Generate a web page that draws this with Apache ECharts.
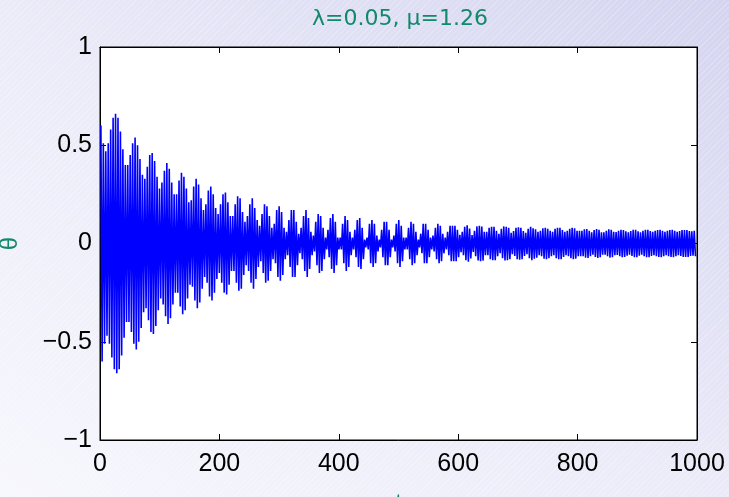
<!DOCTYPE html>
<html>
<head>
<meta charset="utf-8">
<script src="https://cdn.jsdelivr.net/npm/echarts@6/dist/echarts.min.js"></script>
<style>
html,body{margin:0;padding:0;}
body{width:729px;height:497px;overflow:hidden;
background:
 repeating-linear-gradient(135deg, rgba(255,255,255,0.22) 0px, rgba(255,255,255,0.22) 1px, rgba(255,255,255,0) 1px, rgba(255,255,255,0) 4px),
 linear-gradient(to top right, #f7f7fd 0%, #ececf9 45%, #d4d4f0 100%);}
#chart{width:729px;height:497px;}
</style>
</head>
<body>
<div id="chart"></div>
<script>
// Title and axis labels
const titleText = "λ=0.05, μ=1.26";
const xName = "t";
const yName = "θ";
const xTicks = [0, 200, 400, 600, 800, 1000];
const yTicks = [-1, -0.5, 0, 0.5, 1];

// Oscillation: time of first extremum and spacing between successive peaks
const tStart = 1.5;
const tPeriod = 4.09;

// Peak amplitudes, one per cycle (θ swings +A then -A)
const amp1 = [0.60,0.51,0.47,0.51,0.58,0.64,0.66,0.64,0.57,0.48,0.40,0.40,0.45,0.51,0.54,0.50,0.43,0.35,0.33,0.39,0.45,0.46,0.42,0.34,0.28,0.31,0.37,0.41,0.38,0.31,0.25,0.25,0.32,0.36,0.34,0.28,0.21,0.22,0.29,0.33,0.30,0.23,0.17,0.20,0.27,0.29,0.25,0.18];
const amp2 = [0.15,0.20,0.25,0.26,0.21,0.14,0.14,0.20,0.24,0.23,0.16,0.11,0.14,0.20,0.23,0.18,0.12,0.09,0.15,0.20,0.19,0.14,0.08,0.10,0.17,0.19,0.16,0.08,0.06,0.12,0.17,0.17,0.11,0.05,0.08,0.14,0.17,0.13,0.06,0.04,0.11,0.15,0.14,0.08,0.03,0.07,0.13,0.15,0.11];
const amp3 = [0.03,0.03,0.10,0.14,0.12,0.06,0.03,0.07,0.12,0.13,0.08,0.02,0.03,0.10,0.12,0.10,0.04,0.02,0.07,0.11,0.11,0.07,0.02,0.04,0.10,0.12,0.09,0.03,0.03,0.08,0.11,0.10,0.06,0.02,0.05,0.10,0.10,0.07,0.03,0.04,0.08,0.10,0.09,0.05,0.03,0.06,0.09,0.09,0.09,0.07];
const amp4 = [0.044,0.06,0.085,0.093,0.076,0.043,0.065,0.087,0.09,0.087,0.06,0.06,0.08,0.085,0.085,0.065,0.05,0.075,0.087,0.085,0.08,0.055,0.063,0.08,0.082,0.08,0.063,0.055,0.075,0.085,0.077,0.072,0.06,0.065,0.078,0.08,0.075,0.065,0.06,0.075,0.08,0.08,0.068,0.06,0.065,0.075,0.08,0.077,0.065,0.065,0.065];
const amp5 = [0.072,0.073,0.065,0.057,0.068,0.073,0.07,0.057,0.057,0.065,0.072,0.07,0.06,0.058,0.065,0.07,0.069,0.062,0.057,0.064,0.07,0.07,0.062,0.057,0.065,0.07,0.07,0.064,0.06,0.065,0.068,0.07,0.065,0.06,0.065,0.068,0.07,0.065,0.06,0.064,0.068,0.068,0.068,0.064,0.062,0.065];

const amps = amp1.concat(amp2, amp3, amp4, amp5);
const seriesData = [];
amps.forEach(function (a, i) {
  const t = tStart + i * tPeriod;
  seriesData.push([t, a]);
  seriesData.push([t + tPeriod / 2, -a]);
});

const teal = '#12896b';
const fontFam = "'Liberation Sans', Arial, Helvetica, sans-serif";
const titleFam = "'DejaVu Sans', 'Liberation Sans', sans-serif";
const fmtY = function (v) { return v < 0 ? '\u2212' + String(-v) : String(v); };
const fmtX = function (v) { return String(v); };

const chart = echarts.init(document.getElementById('chart'), null, {renderer: 'canvas'});
chart.setOption({
  backgroundColor: 'transparent',
  animation: false,
  title: {
    text: titleText, left: 395, top: 3, textAlign: 'center',
    textStyle: {color: teal, fontSize: 22, fontWeight: 'normal', fontFamily: titleFam}
  },
  grid: {left: 100, right: 32, top: 47, bottom: 57, containLabel: false, outerBoundsMode: 'none',
         show: true, backgroundColor: '#ffffff', borderColor: '#000', borderWidth: 1},
  xAxis: [{
    type: 'value', min: 0, max: 1000, interval: 200,
    name: xName, nameLocation: 'middle', nameGap: 52,
    nameTextStyle: {color: teal, fontSize: 22, fontFamily: fontFam},
    axisLine: {show: true, onZero: false, lineStyle: {color: '#000', width: 1}},
    axisTick: {show: true, inside: true, length: 6, lineStyle: {color: '#000'}},
    axisLabel: {color: '#000', fontSize: 25, fontFamily: fontFam, margin: 12, formatter: fmtX},
    splitLine: {show: false}
  }, {
    type: 'value', min: 0, max: 1000, interval: 200, position: 'top',
    axisLine: {show: true, onZero: false, lineStyle: {color: '#000', width: 1}},
    axisTick: {show: true, inside: true, length: 6, lineStyle: {color: '#000'}},
    axisLabel: {show: false}, splitLine: {show: false}
  }],
  yAxis: [{
    type: 'value', min: -1, max: 1, interval: 0.5,
    name: yName, nameLocation: 'middle', nameGap: 78, nameRotate: 90,
    nameTextStyle: {color: teal, fontSize: 24, fontFamily: fontFam},
    axisLine: {show: true, onZero: false, lineStyle: {color: '#000', width: 1}},
    axisTick: {show: true, inside: true, length: 6, lineStyle: {color: '#000'}},
    axisLabel: {color: '#000', fontSize: 25, fontFamily: fontFam, margin: 8, formatter: fmtY},
    splitLine: {show: false}
  }, {
    type: 'value', min: -1, max: 1, interval: 0.5, position: 'right',
    axisLine: {show: true, onZero: false, lineStyle: {color: '#000', width: 1}},
    axisTick: {show: true, inside: true, length: 6, lineStyle: {color: '#000'}},
    axisLabel: {show: false}, splitLine: {show: false}
  }],
  series: [{
    type: 'line', data: seriesData, showSymbol: false, symbol: 'none',
    sampling: null, clip: true, z: 1,
    lineStyle: {color: '#0000ff', width: 1.6}
  }]
});
</script>
</body>
</html>
